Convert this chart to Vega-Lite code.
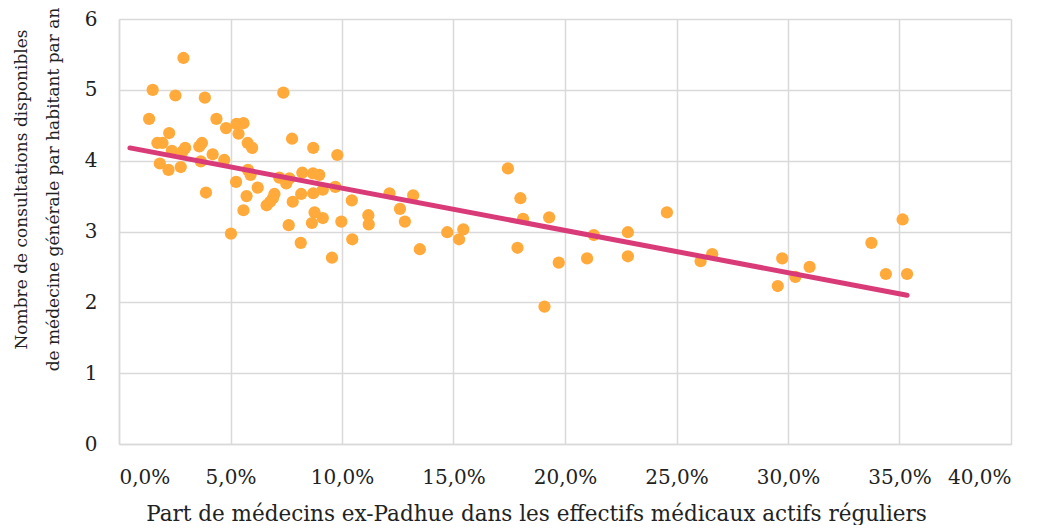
{
  "$schema": "https://vega.github.io/schema/vega-lite/v6.json",
  "width": 892,
  "height": 425,
  "padding": {"left": 12, "top": 7, "right": 5, "bottom": 0},
  "background": "white",
  "config": {
    "locale": {"number": {"decimal": ",", "thousands": " ", "grouping": [3], "currency": ["", " €"]}},
    "view": {"stroke": null},
    "font": "DejaVu Serif"
  },
  "datasets": {
    "points": [
      {"part": 0.0135, "consult": 4.59}, {"part": 0.0151, "consult": 5.00}, {"part": 0.0289, "consult": 5.45},
      {"part": 0.0253, "consult": 4.92}, {"part": 0.0385, "consult": 4.89}, {"part": 0.0737, "consult": 4.96},
      {"part": 0.0437, "consult": 4.59}, {"part": 0.0480, "consult": 4.46}, {"part": 0.0527, "consult": 4.52},
      {"part": 0.0558, "consult": 4.53}, {"part": 0.0536, "consult": 4.38}, {"part": 0.0577, "consult": 4.25},
      {"part": 0.0597, "consult": 4.18}, {"part": 0.0225, "consult": 4.39}, {"part": 0.0172, "consult": 4.25},
      {"part": 0.0195, "consult": 4.25}, {"part": 0.0237, "consult": 4.14}, {"part": 0.0285, "consult": 4.13},
      {"part": 0.0297, "consult": 4.18}, {"part": 0.0360, "consult": 4.20}, {"part": 0.0372, "consult": 4.25},
      {"part": 0.0420, "consult": 4.09}, {"part": 0.0472, "consult": 4.01}, {"part": 0.0183, "consult": 3.96},
      {"part": 0.0222, "consult": 3.87}, {"part": 0.0277, "consult": 3.91}, {"part": 0.0367, "consult": 3.99},
      {"part": 0.0390, "consult": 3.55}, {"part": 0.0502, "consult": 2.97}, {"part": 0.0525, "consult": 3.70},
      {"part": 0.0578, "consult": 3.87}, {"part": 0.0590, "consult": 3.80}, {"part": 0.0572, "consult": 3.50},
      {"part": 0.0558, "consult": 3.30}, {"part": 0.0622, "consult": 3.62}, {"part": 0.0662, "consult": 3.37},
      {"part": 0.0678, "consult": 3.42}, {"part": 0.0690, "consult": 3.47}, {"part": 0.0697, "consult": 3.53},
      {"part": 0.0719, "consult": 3.76}, {"part": 0.0750, "consult": 3.68}, {"part": 0.0764, "consult": 3.75},
      {"part": 0.0779, "consult": 3.42}, {"part": 0.0761, "consult": 3.09}, {"part": 0.0815, "consult": 2.84},
      {"part": 0.0817, "consult": 3.53}, {"part": 0.0822, "consult": 3.83}, {"part": 0.0870, "consult": 3.82},
      {"part": 0.0898, "consult": 3.80}, {"part": 0.0776, "consult": 4.31}, {"part": 0.0871, "consult": 4.18},
      {"part": 0.0871, "consult": 3.54}, {"part": 0.0877, "consult": 3.27}, {"part": 0.0865, "consult": 3.12},
      {"part": 0.0914, "consult": 3.19}, {"part": 0.0914, "consult": 3.59}, {"part": 0.0970, "consult": 3.63},
      {"part": 0.0979, "consult": 4.08}, {"part": 0.0955, "consult": 2.63}, {"part": 0.0997, "consult": 3.14},
      {"part": 0.1044, "consult": 3.44}, {"part": 0.1046, "consult": 2.89}, {"part": 0.1118, "consult": 3.23},
      {"part": 0.1120, "consult": 3.10}, {"part": 0.1213, "consult": 3.54}, {"part": 0.1319, "consult": 3.51},
      {"part": 0.1260, "consult": 3.32}, {"part": 0.1282, "consult": 3.14}, {"part": 0.1349, "consult": 2.75},
      {"part": 0.1472, "consult": 2.99}, {"part": 0.1525, "consult": 2.89}, {"part": 0.1544, "consult": 3.03},
      {"part": 0.1744, "consult": 3.89}, {"part": 0.1800, "consult": 3.47}, {"part": 0.1812, "consult": 3.18},
      {"part": 0.1787, "consult": 2.77}, {"part": 0.1929, "consult": 3.20}, {"part": 0.1908, "consult": 1.94},
      {"part": 0.1972, "consult": 2.56}, {"part": 0.2099, "consult": 2.62}, {"part": 0.2129, "consult": 2.95},
      {"part": 0.2282, "consult": 2.99}, {"part": 0.2282, "consult": 2.65}, {"part": 0.2457, "consult": 3.27},
      {"part": 0.2608, "consult": 2.58}, {"part": 0.2660, "consult": 2.68}, {"part": 0.2974, "consult": 2.62},
      {"part": 0.2954, "consult": 2.23}, {"part": 0.3033, "consult": 2.36}, {"part": 0.3097, "consult": 2.50},
      {"part": 0.3374, "consult": 2.84}, {"part": 0.3439, "consult": 2.40}, {"part": 0.3514, "consult": 3.17},
      {"part": 0.3534, "consult": 2.40}
    ],
    "trend": [
      {"part": 0.0049, "consult": 4.18},
      {"part": 0.3534, "consult": 2.10}
    ]
  },
  "layer": [
    {
      "data": {"name": "points"},
      "mark": {"type": "circle", "size": 150, "color": "#FFAA3A", "opacity": 1},
      "encoding": {
        "x": {
          "field": "part", "type": "quantitative",
          "scale": {"domain": [0, 0.4], "nice": false},
          "axis": {
            "title": "Part de médecins ex-Padhue dans les effectifs médicaux actifs réguliers",
            "format": ".1%",
            "values": [0, 0.05, 0.1, 0.15, 0.2, 0.25, 0.3, 0.35, 0.4],
            "grid": true, "gridColor": "#D9D9D9", "gridWidth": 1.5,
            "domainColor": "#D9D9D9", "domainWidth": 1.5,
            "ticks": false,
            "labelFontSize": 20, "labelColor": "#222", "labelPadding": 23,
            "titleFontSize": 21.5, "titleFontWeight": "normal", "titleColor": "#222", "titlePadding": 16,
            "titleX": 417
          }
        },
        "y": {
          "field": "consult", "type": "quantitative",
          "scale": {"domain": [0, 6], "nice": false},
          "axis": {
            "title": ["Nombre de consultations disponibles", "de médecine générale par habitant par an"],
            "format": "d",
            "values": [0, 1, 2, 3, 4, 5, 6],
            "grid": true, "gridColor": "#D9D9D9", "gridWidth": 1.5,
            "domainColor": "#D9D9D9", "domainWidth": 1.5,
            "ticks": false,
            "labelFontSize": 20, "labelColor": "#222", "labelPadding": 22,
            "titleFontSize": 17, "titleFontWeight": "normal", "titleColor": "#222", "titlePadding": 22, "titleLineHeight": 32,
            "titleY": 170
          }
        }
      }
    },
    {
      "data": {"name": "trend"},
      "mark": {"type": "line", "color": "#D93A78", "strokeWidth": 5, "strokeCap": "round"},
      "encoding": {
        "x": {"field": "part", "type": "quantitative"},
        "y": {"field": "consult", "type": "quantitative"}
      }
    }
  ]
}
